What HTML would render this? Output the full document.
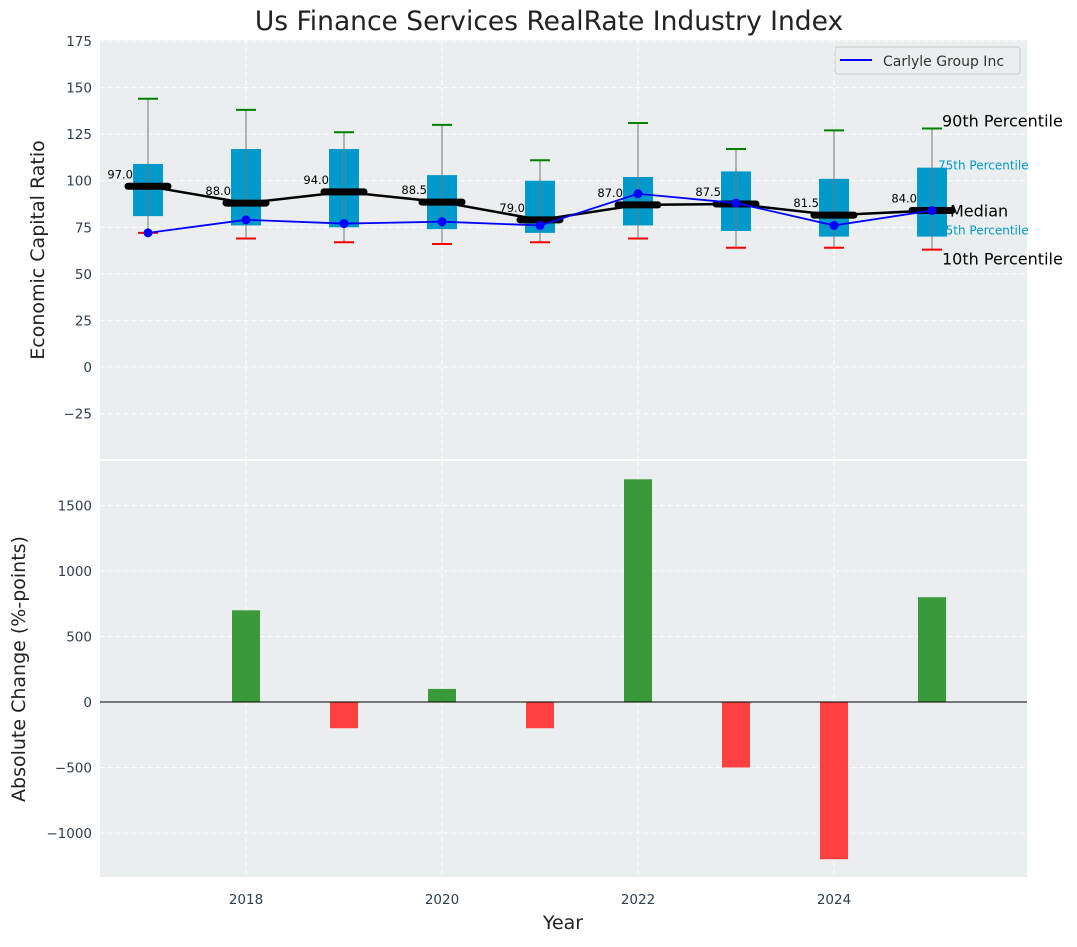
<!DOCTYPE html>
<html><head><meta charset="utf-8"><style>
body{margin:0;background:#fff;font-family:"Liberation Sans","DejaVu Sans",sans-serif}
svg text{font-family:"DejaVu Sans","Liberation Sans",sans-serif}
</style></head><body>
<svg id="c" width="1077" height="942"></svg>
<script>
const years=[2017,2018,2019,2020,2021,2022,2023,2024,2025];
const p10=[72,69,67,66,67,69,64,64,63];
const q1=[81,76,75,74,72,76,73,70,70];
const med=[97,88,94,88.5,79,87,87.5,81.5,84];
const q3=[109,117,117,103,100,102,105,101,107];
const p90=[144,138,126,130,111,131,117,127,128];
const carlyle=[72,79,77,78,76,93,88,76,84];
const chgYears=[2018,2019,2020,2021,2022,2023,2024,2025];
const changes=[700,-200,100,-200,1700,-500,-1200,800];
const topTicks=[-25,0,25,50,75,100,125,150,175];
const botTicks=[-1000,-500,0,500,1000,1500];
const xTicks=[2018,2020,2022,2024];

const svg=document.getElementById('c');const NS='http://www.w3.org/2000/svg';
function el(t,a,p){const e=document.createElementNS(NS,t);for(const k in a)e.setAttribute(k,a[k]);(p||svg).appendChild(e);return e;}
const L=100,R=1027;
const X=v=>148+(v-2017)*98;
const Y1=v=>367-v*(326/175);
const Y2=v=>702-v*0.131;

let g=el('rect',{x:L,y:40,width:R-L,height:419,fill:'#eaeeee'});

g=el('rect',{x:L,y:461,width:R-L,height:416,fill:'#eaeeee'});


topTicks.forEach(t=>{const y=Y1(t);el('line',{x1:L,x2:R,y1:y,y2:y,stroke:'#fff','stroke-dasharray':'5,3','stroke-width':1});
 const tx=el('text',{x:L-8,y:y+5,'text-anchor':'end','font-size':13.5,fill:'#2e3e50'});tx.textContent=t<0?'\u2212'+(-t):t;
 });
botTicks.forEach(t=>{const y=Y2(t);el('line',{x1:L,x2:R,y1:y,y2:y,stroke:'#fff','stroke-dasharray':'5,3','stroke-width':1});
 const tx=el('text',{x:L-8,y:y+5,'text-anchor':'end','font-size':13.5,fill:'#2e3e50'});tx.textContent=t<0?'\u2212'+(-t):t;
 });
xTicks.forEach(t=>{const x=X(t);el('line',{x1:x,x2:x,y1:40,y2:459,stroke:'#fff','stroke-dasharray':'5,3'});el('line',{x1:x,x2:x,y1:461,y2:877,stroke:'#fff','stroke-dasharray':'5,3'});
 const tx=el('text',{x:x,y:904,'text-anchor':'middle','font-size':13.5,fill:'#2e3e50'});tx.textContent=t;
 });

// annotations
const last=years.length-1,xa=X(years[last])+10;
[['90th Percentile',Y1(p90[last])-2,16,'#000',xa],['75th Percentile',Y1(q3[last]-1),12,'#0099cc',xa-4],['Median',Y1(med[last])+6,16,'#000',xa+8],['25th Percentile',Y1(q1[last]+1),12,'#0099cc',xa-4],['10th Percentile',Y1(p10[last])+15,16,'#000',xa]].forEach(a=>{
 const t=el('text',{x:a[4],y:a[1],'font-size':a[2],fill:a[3]});t.textContent=a[0];
 });

years.forEach((yr,i)=>{const x=X(yr);
 const b=el('rect',{x:x-15,y:Y1(q3[i]),width:30,height:Y1(q1[i])-Y1(q3[i]),fill:'#0099cc'});
 
 el('line',{x1:x,x2:x,y1:Y1(p90[i]),y2:Y1(p10[i]),stroke:'#777','stroke-width':1});
 el('line',{x1:x-10,x2:x+10,y1:Y1(p90[i]),y2:Y1(p90[i]),stroke:'green','stroke-width':2});
 el('line',{x1:x-10,x2:x+10,y1:Y1(p10[i]),y2:Y1(p10[i]),stroke:'red','stroke-width':2});
});
el('polyline',{points:years.map((y,i)=>X(y)+','+Y1(med[i])).join(' '),fill:'none',stroke:'#000','stroke-width':2.5});
years.forEach((yr,i)=>{const x=X(yr),y=Y1(med[i]);
 const m=el('line',{x1:x-20,x2:x+20,y1:y,y2:y,stroke:'#000','stroke-width':7,'stroke-linecap':'round'});
 
 const t=el('text',{x:x-15,y:y-8,'text-anchor':'end','font-size':11.5,fill:'#000'});t.textContent=med[i].toFixed(1);
 });
const cl=el('polyline',{points:years.map((y,i)=>X(y)+','+Y1(carlyle[i])).join(' '),fill:'none',stroke:'blue','stroke-width':1.8});

years.forEach((yr,i)=>{const p=el('circle',{cx:X(yr),cy:Y1(carlyle[i]),r:4.5,fill:'blue'});
 });

const lg=el('g',{});
el('rect',{x:835,y:47,width:185,height:27,rx:3,fill:'#eaeeee',stroke:'#ccc'},lg);
el('line',{x1:840,x2:872,y1:60,y2:60,stroke:'blue','stroke-width':2},lg);
const lt=el('text',{x:883,y:66,'font-size':14,fill:'#333'},lg);lt.textContent='Carlyle Group Inc';

chgYears.forEach((yr,i)=>{const v=changes[i],x=X(yr);
 const b=el('rect',{x:x-14,y:Math.min(Y2(v),Y2(0)),width:28,height:Math.abs(Y2(v)-Y2(0)),fill:v>=0?'#3a9a3a':'#ff4040'});
 });
el('line',{x1:L,x2:R,y1:Y2(0),y2:Y2(0),stroke:'#000','stroke-width':1});

let t=el('text',{x:549,y:30,'text-anchor':'middle','font-size':26.5,fill:'#222'});t.textContent='Us Finance Services RealRate Industry Index';

t=el('text',{x:0,y:0,'text-anchor':'middle','font-size':19,fill:'#222',transform:'translate(44,250) rotate(-90)'});t.textContent='Economic Capital Ratio';

t=el('text',{x:0,y:0,'text-anchor':'middle','font-size':19,fill:'#222',transform:'translate(25,669) rotate(-90)'});t.textContent='Absolute Change (%-points)';

t=el('text',{x:563,y:929,'text-anchor':'middle','font-size':19,fill:'#222'});t.textContent='Year';

</script>
</body></html>
